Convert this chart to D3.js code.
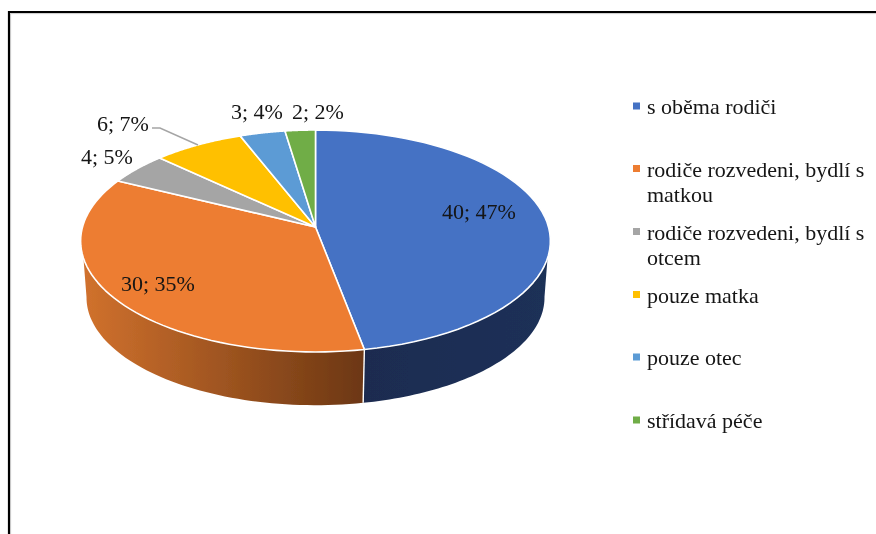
<!DOCTYPE html>
<html><head><meta charset="utf-8">
<script src="https://cdn.jsdelivr.net/npm/d3@7/dist/d3.min.js"></script>
<style>html,body{margin:0;padding:0;background:#fff;overflow:hidden}svg{display:block}
text{font-family:"Liberation Serif",serif;font-size:20px;fill:#141414}</style>
</head><body><svg id="c" width="876" height="534"></svg>
<script>
const categories = ["s oběma rodiči","rodiče rozvedeni, bydlí s matkou","rodiče rozvedeni, bydlí s otcem","pouze matka","pouze otec","střídavá péče"];
const values = [40,30,4,6,3,2];
const colors = ["#4472C4","#ED7D31","#A5A5A5","#FFC000","#5B9BD5","#70AD47"];

const legendLines = [["s oběma rodiči"],["rodiče rozvedeni, bydlí s","matkou"],["rodiče rozvedeni, bydlí s","otcem"],["pouze matka"],["pouze otec"],["střídavá péče"]];
const legendBaselines = [114,176.5,239.5,302.5,365,428];
const labelAnchors = [[442,219],[121,291],[81,164],[97,131],[231,119],[292,119]];

const svg = d3.select("#c");
const defs = svg.append("defs");
const blur = defs.append("filter").attr("id","soft").attr("x","-5%").attr("y","-5%").attr("width","110%").attr("height","110%");
blur.append("feGaussianBlur").attr("stdDeviation",0.35);

// frame
svg.append("path").attr("d","M9,534V12H876").attr("fill","none").attr("stroke","#000").attr("stroke-width",2.2);
svg.append("path").attr("d","M10.6,534V13.6H876").attr("fill","none").attr("stroke","#bbb").attr("stroke-width",0.8);

// perspective projection of the pie disc
const cx=315.5, apexY=227, A=233, B=109.2, p=0.126;
const topRim = t => { const w=1+p*Math.cos(t); return [cx+A*Math.sin(t)/w, apexY-B*Math.cos(t)/w]; };
const A2=A*0.975, B2=B*0.97, apex2=284;
const botRim = t => { const w=1+p*Math.cos(t); return [cx+A2*Math.sin(t)/w, apex2-B2*Math.cos(t)/w]; };

const arcs = d3.pie().sort(null).value(d=>d)(values);
const total = d3.sum(values);
const line = d3.line();
const samples = (a,b) => d3.range(0,61).map(i=>a+(b-a)*i/60);
const rad = d3.scaleLinear().domain([0,180]).range([0,Math.PI]);

// side wall
const topFrom = rad(106), topTo = rad(254), botFrom = rad(97), botTo = rad(263);
const wallGrad = [
  {id:"wb", stops:[["0%","#1A2C50"],["100%","#1C3058"]], x1:364,x2:550},
  {id:"wo", stops:[["0%","#D0712D"],["100%","#6C3713"]], x1:85,x2:364}
];
wallGrad.forEach(g=>{
  const lg=defs.append("linearGradient").attr("id",g.id).attr("gradientUnits","userSpaceOnUse")
    .attr("x1",g.x1).attr("x2",g.x2).attr("y1",0).attr("y2",0);
  g.stops.forEach(s=>lg.append("stop").attr("offset",s[0]).attr("stop-color",s[1]));
});
const gSoft = svg.append("g").attr("filter","url(#soft)");
arcs.forEach((d,i)=>{
  const a=Math.max(d.startAngle,topFrom), b=Math.min(d.endAngle,topTo);
  if(b<=a) return;
  const a2=Math.max(d.startAngle,botFrom), b2=Math.min(d.endAngle,botTo);
  const pts=samples(a,b).map(topRim).concat(samples(b2,a2).map(botRim));
  gSoft.append("path").attr("d",line(pts)+"Z").attr("fill",`url(#${i===0?"wb":"wo"})`);
});
// seam between visible walls
arcs.slice(0,-1).forEach(d=>{
  const t=d.endAngle;
  if(t>topFrom&&t<topTo) gSoft.append("path").attr("d",line([topRim(t),botRim(t)])).attr("stroke","#fff").attr("stroke-width",1.4).attr("fill","none");
});
// top face
arcs.forEach((d,i)=>{
  const pts=[[cx,apexY]].concat(samples(d.startAngle,d.endAngle).map(topRim));
  gSoft.append("path").attr("d",line(pts)+"Z").attr("fill",colors[i]).attr("stroke","#fff").attr("stroke-width",1.6).attr("stroke-linejoin","round");
});
// leader line
gSoft.append("path").attr("d","M152,128H160L198,145").attr("fill","none").attr("stroke","#A5A5A5").attr("stroke-width",1.5);

// data labels
const gText = svg.append("g").attr("filter","url(#soft)");
const stretched = (x,y,s) => gText.append("text").attr("transform",`translate(${x},${y}) scale(1.1,1)`).text(s);
arcs.forEach((d,i)=>{
  stretched(labelAnchors[i][0],labelAnchors[i][1],`${d.value}; ${Math.round(d.value/total*100)}%`);
});
// legend
categories.forEach((c,i)=>{
  const y=legendBaselines[i];
  gSoft.append("rect").attr("x",633).attr("y",y-11.5).attr("width",7).attr("height",7).attr("fill",colors[i]);
  legendLines[i].forEach((t,j)=>stretched(647,y+j*25,t));
});
</script></body></html>
